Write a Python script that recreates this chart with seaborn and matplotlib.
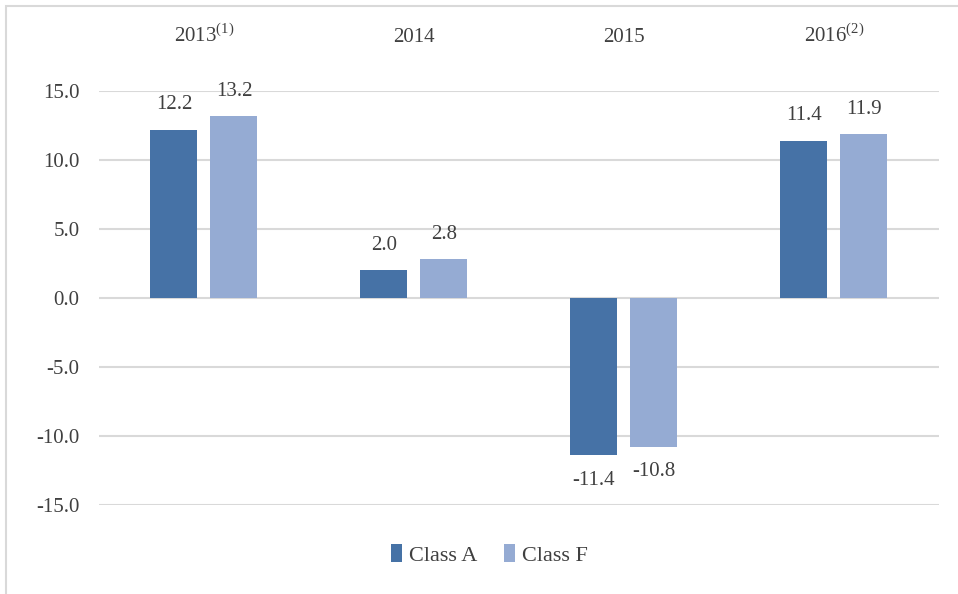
import matplotlib
matplotlib.use("Agg")
import matplotlib.pyplot as plt
from matplotlib.patches import Rectangle
import pandas as pd
import seaborn as sns

# values
years = ["2013", "2014", "2015", "2016"]
year_labels = [r"2013$^{\mathrm{(1)}}$", "2014", "2015", r"2016$^{\mathrm{(2)}}$"]
class_a = [12.2, 2.0, -11.4, 11.4]
class_f = [13.2, 2.8, -10.8, 11.9]
series = ["Class A", "Class F"]
colors = ["#4672a6", "#95abd3"]

df = pd.DataFrame({
    "year": years * 2,
    "value": class_a + class_f,
    "series": [series[0]] * 4 + [series[1]] * 4,
})

sns.set_style("white")
plt.rcParams["font.family"] = ["Liberation Serif", "DejaVu Serif"]
plt.rcParams["mathtext.fontset"] = "custom"
plt.rcParams["mathtext.rm"] = "Liberation Serif"
text_col = "#404040"
fs = 15

fig = plt.figure(figsize=(9.58, 5.94), dpi=100)
ax = fig.add_axes([0.1033, 0.1498, 0.8768, 0.697])

sns.barplot(data=df, x="year", y="value", hue="series", hue_order=series,
            palette=colors, width=0.571, gap=0.216, linewidth=0,
            saturation=1, ax=ax, legend=True)

for cont in ax.containers:
    vals = [b.get_height() for b in cont]
    labels = [f"{v:.1f}" for v in vals]
    ax.bar_label(cont, labels=labels, padding=11, fontsize=fs, color=text_col)

ax.set_ylim(-15, 15)
ax.set_xlim(-0.5, 3.5)
ax.set_yticks([15, 10, 5, 0, -5, -10, -15])
ax.set_yticklabels([f"{t:.1f}" for t in [15, 10, 5, 0, -5, -10, -15]])
ax.grid(axis="y", color="#d9d9d9", linewidth=1.5)
ax.set_axisbelow(True)
for s in ax.spines.values():
    s.set_visible(False)

ax.xaxis.tick_top()
ax.set_xticks(range(4))
ax.set_xticklabels(year_labels)
ax.tick_params(axis="x", length=0, pad=32, labelsize=fs, labelcolor=text_col)
ax.tick_params(axis="y", length=0, pad=14, labelsize=fs, labelcolor=text_col)
ax.set_xlabel("")
ax.set_ylabel("")

leg = ax.legend(loc="center", bbox_to_anchor=(0.465, -0.12), ncol=2, frameon=False,
                fontsize=fs + 1, handlelength=0.5, handleheight=0.9,
                handletextpad=0.3, columnspacing=1.2)
for t in leg.get_texts():
    t.set_color(text_col)

fig.patches.append(Rectangle((0.006, -0.01), 1.0, 1.0, transform=fig.transFigure,
                             fill=False, edgecolor="#d9d9d9", linewidth=1.5))

fig.savefig("out.png", dpi=100)
